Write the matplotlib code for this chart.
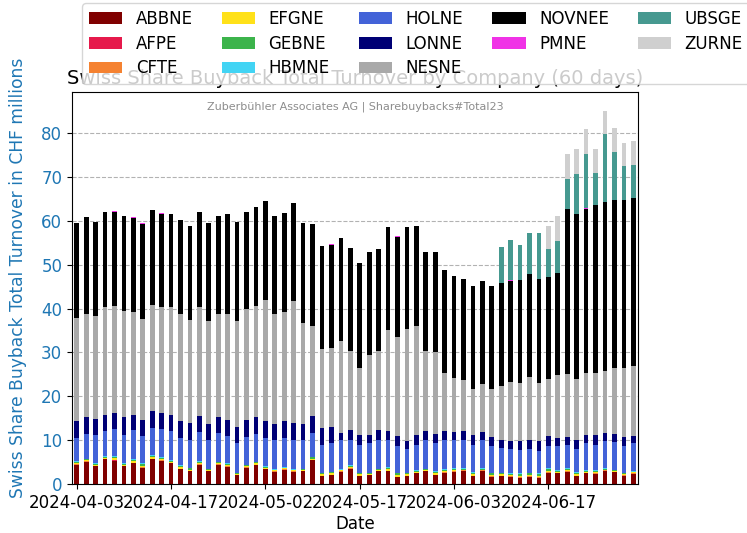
import numpy as np
import pandas as pd
import matplotlib
matplotlib.use("Agg")
import matplotlib.pyplot as plt

plt.rcParams["font.size"] = 12

# 60 trading days (SIX calendar)
dates = pd.to_datetime([
    "2024-04-03", "2024-04-04", "2024-04-05", "2024-04-08", "2024-04-09",
    "2024-04-10", "2024-04-11", "2024-04-12", "2024-04-15", "2024-04-16",
    "2024-04-17", "2024-04-18", "2024-04-19", "2024-04-22", "2024-04-23",
    "2024-04-24", "2024-04-25", "2024-04-26", "2024-04-29", "2024-04-30",
    "2024-05-02", "2024-05-03", "2024-05-06", "2024-05-07", "2024-05-08",
    "2024-05-10", "2024-05-13", "2024-05-14", "2024-05-15", "2024-05-16",
    "2024-05-17", "2024-05-21", "2024-05-22", "2024-05-23", "2024-05-24",
    "2024-05-27", "2024-05-28", "2024-05-29", "2024-05-30", "2024-05-31",
    "2024-06-03", "2024-06-04", "2024-06-05", "2024-06-06", "2024-06-07",
    "2024-06-10", "2024-06-11", "2024-06-12", "2024-06-13", "2024-06-14",
    "2024-06-17", "2024-06-18", "2024-06-19", "2024-06-20", "2024-06-21",
    "2024-06-24", "2024-06-25", "2024-06-26", "2024-06-27", "2024-06-28",
])

# turnover in CHF millions
ABBNE = [4.4, 5.1, 4.0, 5.6, 5.3, 4.0, 4.8, 3.7, 5.6, 5.3,
         4.8, 3.4, 2.9, 4.4, 2.9, 4.4, 3.9, 2.0, 3.7, 4.3,
         3.4, 2.8, 3.3, 2.8, 3.0, 5.4, 1.8, 2.0, 2.8, 3.5,
         1.8, 2.0, 2.9, 2.9, 1.6, 1.8, 2.5, 2.9, 2.0, 2.6,
         2.8, 3.0, 1.8, 3.0, 1.7, 1.8, 1.7, 1.3, 1.7, 1.4,
         2.6, 2.4, 2.8, 1.8, 2.4, 2.3, 3.0, 2.7, 1.9, 2.3]
AFPE = [0, 0, 0, 0, 0.1, 0, 0, 0, 0, 0,
        0, 0, 0, 0, 0, 0, 0, 0, 0, 0,
        0, 0, 0, 0, 0, 0, 0, 0, 0, 0,
        0, 0, 0, 0, 0, 0, 0, 0, 0, 0,
        0, 0, 0, 0, 0, 0, 0, 0.1, 0, 0,
        0, 0, 0, 0, 0, 0, 0, 0, 0, 0]
CFTE = [0.1, 0.1, 0.1, 0.1, 0.1, 0.1, 0.1, 0.1, 0.1, 0.1,
        0.1, 0.1, 0.1, 0.1, 0.1, 0.1, 0.1, 0.1, 0.1, 0.1,
        0.1, 0.1, 0.1, 0.1, 0.05, 0.1, 0.1, 0.1, 0.1, 0.1,
        0.1, 0.1, 0.1, 0.1, 0.1, 0.1, 0.1, 0.1, 0.1, 0.1,
        0.1, 0.1, 0.1, 0.1, 0.1, 0.1, 0.1, 0.1, 0.1, 0.1,
        0.1, 0.1, 0.1, 0.1, 0.1, 0.1, 0.1, 0.05, 0.1, 0.1]
EFGNE = [0.3, 0.25, 0.3, 0.3, 0.35, 0.3, 0.3, 0.35, 0.35, 0.3,
         0.2, 0.3, 0.3, 0.3, 0.2, 0.25, 0.3, 0.2, 0.25, 0.3,
         0.25, 0.2, 0.2, 0.2, 0.2, 0.3, 0.3, 0.3, 0.2, 0.3,
         0.3, 0.2, 0.2, 0.35, 0.35, 0.3, 0.2, 0.2, 0.3, 0.3,
         0.3, 0.2, 0.35, 0.2, 0.3, 0.3, 0.25, 0.35, 0.3, 0.35,
         0.35, 0.3, 0.3, 0.35, 0.3, 0.3, 0.2, 0.2, 0.25, 0.25]
GEBNE = [0.25, 0.2, 0.25, 0.25, 0.35, 0.25, 0.25, 0.35, 0.35, 0.3,
         0.15, 0.3, 0.25, 0.3, 0.15, 0.2, 0.25, 0.15, 0.2, 0.25,
         0.2, 0.15, 0.15, 0.15, 0.15, 0.25, 0.25, 0.25, 0.15, 0.3,
         0.25, 0.15, 0.15, 0.35, 0.35, 0.25, 0.15, 0.15, 0.3, 0.3,
         0.25, 0.15, 0.35, 0.15, 0.3, 0.25, 0.2, 0.35, 0.3, 0.35,
         0.35, 0.25, 0.25, 0.35, 0.25, 0.3, 0.15, 0.15, 0.2, 0.2]
HBMNE = [0.15, 0.15, 0.15, 0.15, 0.2, 0.15, 0.15, 0.2, 0.2, 0.2,
         0.15, 0.2, 0.15, 0.2, 0.15, 0.15, 0.15, 0.15, 0.15, 0.15,
         0.15, 0.15, 0.15, 0.15, 0.1, 0.15, 0.15, 0.15, 0.15, 0.2,
         0.15, 0.15, 0.15, 0.2, 0.2, 0.15, 0.15, 0.15, 0.2, 0.2,
         0.15, 0.15, 0.2, 0.15, 0.2, 0.15, 0.15, 0.2, 0.2, 0.2,
         0.2, 0.15, 0.15, 0.2, 0.15, 0.2, 0.15, 0.1, 0.15, 0.15]
HOLNE = [5.4, 5.7, 6.4, 5.6, 6.1, 6.4, 6.6, 6.2, 6.1, 6.3,
         6.6, 6.1, 6.3, 6.5, 6.5, 6.6, 6.3, 6.7, 6.4, 6.3,
         6.5, 6.6, 6.7, 6.6, 6.5, 5.5, 6.4, 6.5, 6.6, 5.6,
         6.4, 6.7, 6.5, 6.1, 6.1, 5.4, 5.9, 6.5, 6.5, 6.5,
         6.4, 6.4, 6.2, 6.4, 6.1, 5.5, 5.6, 5.4, 5.3, 5.2,
         5.1, 5.5, 5.3, 5.2, 6.1, 5.8, 6.3, 6.3, 6.1, 6.3]
LONNE = [3.8, 3.7, 3.7, 3.8, 3.7, 4.0, 3.6, 3.7, 3.9, 3.7,
         3.8, 4.0, 3.9, 3.8, 3.6, 3.5, 3.7, 3.8, 3.8, 3.8,
         3.8, 3.6, 3.8, 3.9, 3.6, 3.9, 3.7, 3.7, 1.7, 2.2,
         2.2, 1.9, 2.2, 2.0, 2.3, 1.8, 2.2, 2.0, 2.0, 2.0,
         1.9, 2.1, 2.2, 1.9, 2.1, 1.9, 1.9, 2.1, 2.1, 2.3,
         2.2, 1.9, 1.9, 2.0, 1.9, 2.2, 1.8, 1.9, 2.1, 1.7]
NESNE = [23.5, 23.5, 23.3, 24.5, 24.3, 24.3, 23.5, 23.0, 24.3, 24.1,
         24.5, 24.3, 23.5, 24.7, 23.6, 23.6, 24.1, 24.0, 25.2, 25.3,
         27.5, 25.2, 24.9, 27.8, 23.0, 20.4, 18.0, 18.0, 20.8, 18.1,
         15.3, 18.1, 18.1, 23.0, 22.6, 25.5, 24.8, 18.3, 18.6, 13.2,
         12.3, 11.6, 10.4, 10.8, 10.8, 12.4, 13.3, 13.1, 14.3, 13.1,
         13.0, 14.2, 14.3, 13.9, 14.0, 14.0, 14.1, 15.0, 15.6, 16.0]
NOVNEE = [21.7, 22.1, 21.6, 21.6, 21.6, 21.6, 21.3, 21.6, 21.6, 21.3,
          21.3, 21.5, 21.3, 21.7, 22.4, 22.4, 22.7, 22.7, 22.3, 22.6,
          22.5, 22.3, 22.4, 22.4, 22.9, 23.2, 23.6, 23.4, 23.5, 23.6,
          23.8, 23.5, 23.3, 23.5, 22.8, 23.2, 22.9, 22.5, 22.8, 23.5,
          23.3, 23.1, 23.6, 23.6, 23.6, 23.5, 23.1, 23.5, 23.6, 23.8,
          23.4, 23.4, 37.5, 37.7, 37.5, 38.5, 38.4, 38.4, 38.4, 38.3]
PMNE = [0, 0, 0, 0, 0.2, 0, 0.2, 0.2, 0, 0.2,
        0, 0, 0.2, 0, 0, 0, 0, 0, 0, 0,
        0, 0, 0, 0, 0, 0, 0, 0.2, 0, 0,
        0, 0, 0, 0, 0.2, 0, 0, 0, 0, 0,
        0, 0, 0, 0, 0, 0, 0.2, 0, 0, 0,
        0, 0, 0, 0, 0.2, 0, 0, 0, 0, 0]
UBSGE = [0, 0, 0, 0, 0, 0, 0, 0, 0, 0,
         0, 0, 0, 0, 0, 0, 0, 0, 0, 0,
         0, 0, 0, 0, 0, 0, 0, 0, 0, 0,
         0, 0, 0, 0, 0, 0, 0, 0, 0, 0,
         0, 0, 0, 0, 0, 8.2, 9.1, 7.9, 9.4, 10.5,
         6.2, 7.2, 7.0, 9.1, 12.4, 7.2, 15.6, 10.8, 7.6, 7.4]
ZURNE = [0, 0, 0, 0, 0, 0, 0, 0, 0, 0,
         0, 0, 0, 0, 0, 0, 0, 0, 0, 0,
         0, 0, 0, 0, 0, 0, 0, 0, 0, 0,
         0, 0, 0, 0, 0, 0, 0, 0, 0, 0,
         0, 0, 0, 0, 0, 0, 0, 0, 0, 0,
         5.3, 5.7, 5.7, 5.6, 5.6, 5.4, 5.3, 5.5, 5.3, 5.5]

df = pd.DataFrame({
    "ABBNE": ABBNE, "AFPE": AFPE, "CFTE": CFTE, "EFGNE": EFGNE,
    "GEBNE": GEBNE, "HBMNE": HBMNE, "HOLNE": HOLNE, "LONNE": LONNE,
    "NESNE": NESNE, "NOVNEE": NOVNEE, "PMNE": PMNE, "UBSGE": UBSGE,
    "ZURNE": ZURNE,
}, index=dates.strftime("%Y-%m-%d"))

colors = ["#800000", "#e6194b", "#f58231", "#ffe119", "#3cb44b", "#42d4f4",
          "#4363d8", "#000075", "#a9a9a9", "#000000", "#f032e6", "#469990",
          "#cfcfcf"]

fig = plt.figure(figsize=(7.47, 5.33), dpi=100)
ax = fig.add_axes([0.0964, 0.0919, 0.7577, 0.7355])

df.plot(kind="bar", stacked=True, color=colors, width=0.5, ax=ax, legend=False)

ax.set_xticks(range(0, len(df), 10))
ax.set_xticklabels(df.index[::10], rotation=0)
ax.set_xlim(-0.5, len(df) - 0.5)

ax.set_title("Swiss Share Buyback Total Turnover by Company (60 days)", fontsize=14)
ax.set_xlabel("Date", labelpad=2)
ax.set_ylabel("Swiss Share Buyback Total Turnover in CHF millions",
              color="tab:blue", fontsize=12.3)
ax.yaxis.set_label_coords(-0.08, 0.525)
ax.tick_params(axis="y", labelcolor="tab:blue")
ax.grid(axis="y", linestyle="--", color="gray", alpha=0.6)
ax.set_axisbelow(True)

ax.text(0.5, 0.963, "Zuberbühler Associates AG | Sharebuybacks#Total23",
        transform=ax.transAxes, ha="center", va="center", fontsize=8,
        color="gray", alpha=0.9)

handles, labels = ax.get_legend_handles_labels()
fig.legend(handles, labels, ncol=5, loc="upper left", labelspacing=0.4,
           columnspacing=1.75, bbox_to_anchor=(74 / 747, 1 + 5 / 533))

fig.savefig("out.png", dpi=100)
